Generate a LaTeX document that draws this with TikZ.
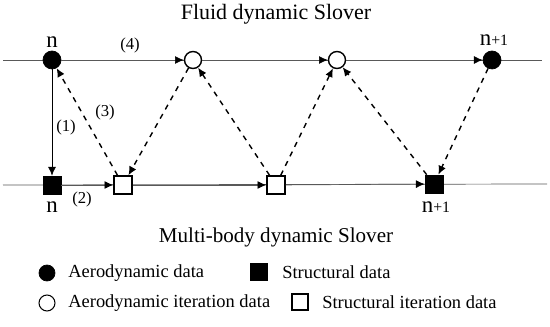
\documentclass[tikz,border=0pt]{standalone}
\usepackage{fontspec}
\setmainfont{Liberation Serif}
\usetikzlibrary{arrows.meta}
\tikzset{
  blackdot/.style={draw, circle, fill=black, minimum size=0.36cm, inner sep=0pt},
  opendot/.style={draw, circle, fill=white, minimum size=0.34cm, inner sep=0pt, thick},
  blacksq/.style={draw, rectangle, fill=black, minimum size=0.36cm, inner sep=0pt},
  opensq/.style={draw, rectangle, fill=white, minimum size=0.36cm, inner sep=0pt, thick},
  flow/.style={-{Latex[length=5pt,width=4.5pt,color=black]}, draw=black!65},
  iter/.style={-{Latex[length=5pt,width=4.5pt]}, dashed, thick},
  lbl/.style={font=\fontsize{9.5}{11}\selectfont, inner sep=1pt},
  legtext/.style={anchor=west, font=\fontsize{10.5}{12}\selectfont, inner sep=0pt}
}
\begin{document}
\begin{tikzpicture}[x=0.02cm, y=-0.02cm]
\useasboundingbox (0,0) rectangle (550,327);
% solvers
\node[font=\fontsize{12.5}{14}\selectfont] (fluid) at (276,14) {Fluid dynamic Slover};
\node[font=\fontsize{12}{14}\selectfont] (multi) at (276,237) {Multi-body dynamic Slover};
% time lines
\coordinate (topL) at (3,60);
\coordinate (topR) at (542,60);
\coordinate (botL) at (3,185);
\coordinate (botR) at (547,184);
\draw[black!65] (topL) -- (topR);
\draw[black!65] (botL) -- (botR);
% aerodynamic side
\node[blackdot] (cn) at (52,60) {};
\node[opendot] (c1) at (193,60) {};
\node[opendot] (c2) at (337,60) {};
\node[blackdot] (cN) at (492,60) {};
% structural side
\node[blacksq] (sn) at (52,185) {};
\node[opensq] (s1) at (123,185) {};
\node[opensq] (s2) at (276,185) {};
\node[blacksq] (sN) at (434,184) {};
% step labels
\node[font=\fontsize{13}{14}\selectfont] at (52,42) {n};
\node[font=\fontsize{13}{14}\selectfont] at (52,207) {n};
\node[font=\fontsize{13}{14}\selectfont] at (494,40) {n{\fontsize{9}{10}\selectfont +1}};
\node[font=\fontsize{13}{14}\selectfont] at (436,207) {n{\fontsize{9}{10}\selectfont +1}};
% solid arrows
\draw[flow] (cn) -- (c1);
\draw[flow] (c1) -- (c2);
\draw[flow] (c2) -- (cN);
\draw[flow] (sn) -- (s1);
\draw[flow] (s1) -- (s2);
\draw[flow] (s2) -- (sN);
\draw[-{Latex[length=5pt,width=4.5pt]}] (cn) -- (sn);
% dashed iteration arrows
\draw[iter] (s1) -- (cn);
\draw[iter] (c1) -- (s1);
\draw[iter] (s2) -- (c1);
\draw[iter] (s2) -- (c2);
\draw[iter] (sN) -- (c2);
\draw[iter] (cN) -- (sN);
% numbers
\node[lbl] at (130,45) {(4)};
\node[lbl] at (66,127) {(1)};
\node[lbl] at (82,199) {(2)};
\node[lbl] at (105,112) {(3)};
% legend
\node[blackdot, minimum size=0.32cm] (lg1) at (47,273) {};
\node[legtext] (lt1) at (68,273) {Aerodynamic data};
\node[blacksq, minimum size=0.33cm] (lg2) at (259,272) {};
\node[legtext] (lt2) at (282,272) {Structural data};
\node[opendot, minimum size=0.32cm, semithick] (lg3) at (47,303) {};
\node[legtext] (lt3) at (68,303) {Aerodynamic iteration data};
\node[opensq, minimum size=0.32cm, semithick] (lg4) at (300,302) {};
\node[legtext] (lt4) at (322,302) {Structural iteration data};
\end{tikzpicture}
\end{document}
